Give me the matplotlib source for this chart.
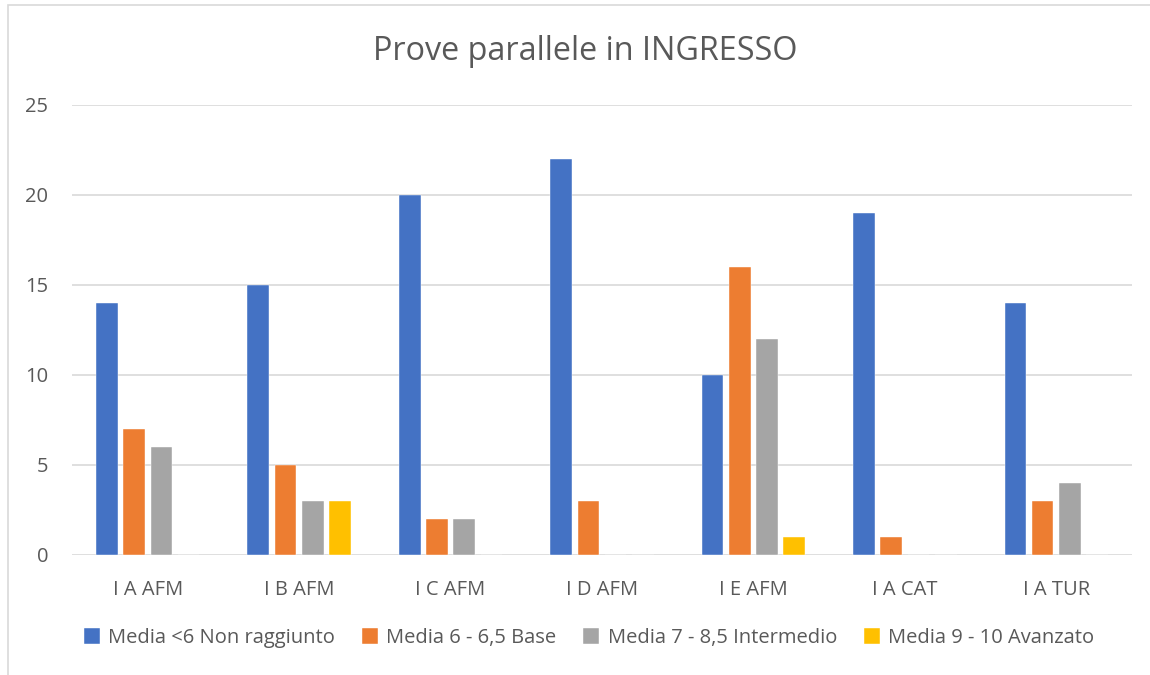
import matplotlib
matplotlib.use("Agg")
import matplotlib.pyplot as plt
import numpy as np
from matplotlib.patches import Rectangle

categories = ["I A AFM", "I B AFM", "I C AFM", "I D AFM", "I E AFM", "I A CAT", "I A TUR"]
series_names = ["Media <6 Non raggiunto", "Media 6 - 6,5 Base",
                "Media 7 - 8,5 Intermedio", "Media 9 - 10 Avanzato"]
non_raggiunto = [14, 15, 20, 22, 10, 19, 14]
base = [7, 5, 2, 3, 16, 1, 3]
intermedio = [6, 3, 2, 0, 12, 0, 4]
avanzato = [0, 3, 0, 0, 1, 0, 0]
colors = ["#4472C4", "#ED7D31", "#A5A5A5", "#FFC000"]
title = "Prove parallele in INGRESSO"

plt.rcParams['font.family'] = ['Open Sans', 'DejaVu Sans']
txt = "#595959"

fig = plt.figure(figsize=(11.5, 6.75), dpi=100)
fig.patches.append(Rectangle((8/1150, -0.1), 1.2, 1.1 - 5/675, transform=fig.transFigure,
                             fill=False, edgecolor="#D9D9D9", linewidth=1.2))
ax = fig.add_axes([72/1150, 1 - 555/675, 1060/1150, 450/675])

x = np.arange(len(categories))
step = 0.18
width = 0.143
data = [non_raggiunto, base, intermedio, avanzato]
for i, (vals, c, name) in enumerate(zip(data, colors, series_names)):
    ax.bar(x + (i - 1.5) * step, vals, width, color=c, label=name, zorder=3,
           edgecolor="white", linewidth=0.3)

ax.set_xlim(-0.5, len(categories) - 0.5)
ax.set_ylim(0, 25)
ax.set_yticks(range(0, 26, 5))
ax.set_xticks(x)
ax.set_xticklabels(categories)
ax.grid(axis='y', color="#D9D9D9", linewidth=1.2, zorder=0)
for s in ax.spines.values():
    s.set_visible(False)
ax.tick_params(axis='both', length=0, colors=txt, labelsize=14.5)
ax.tick_params(axis='y', pad=17)
ax.tick_params(axis='x', pad=18)

fig.text(585/1150, 1 - 52/675, title, ha='center', va='center', fontsize=23.3, color=txt)

leg = fig.legend(loc='center', bbox_to_anchor=(589/1150, 1 - 638/675), ncol=4, frameon=False,
                 fontsize=14.5, handlelength=0.8, handleheight=0.8, handletextpad=0.4,
                 columnspacing=1.35, labelcolor=txt)

fig.savefig("out.png", dpi=100)
